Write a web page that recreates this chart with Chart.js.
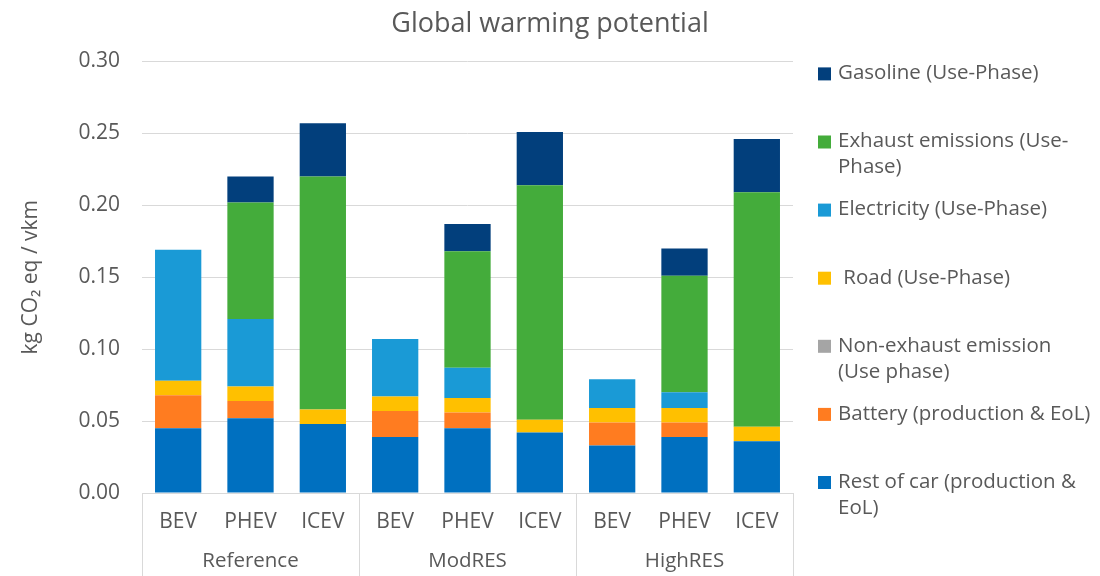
<!DOCTYPE html>
<html>
<head>
<meta charset="utf-8">
<script src="https://cdn.jsdelivr.net/npm/chart.js@4.4.0/dist/chart.umd.min.js"></script>
<style>
  html, body { margin: 0; padding: 0; background: #ffffff; }
  #wrap { width: 1100px; height: 576px; }
</style>
</head>
<body>
<div id="wrap"><canvas id="chart" width="1100" height="576"></canvas></div>
<script>
// Vehicle types (inner axis) and electricity-mix scenarios (outer axis)
const vehicles = ['BEV', 'PHEV', 'ICEV', 'BEV', 'PHEV', 'ICEV', 'BEV', 'PHEV', 'ICEV'];
const scenarios = ['Reference', 'ModRES', 'HighRES'];
const yTicks = [0, 0.05, 0.10, 0.15, 0.20, 0.25, 0.30];

// kg CO2 eq per vehicle-km, one value per bar
const restOfCar   = [0.045, 0.052, 0.048, 0.039, 0.045, 0.042, 0.033, 0.039, 0.036];
const battery     = [0.023, 0.012, 0.000, 0.018, 0.011, 0.000, 0.016, 0.010, 0.000];
const nonExhaust  = [0.000, 0.000, 0.000, 0.000, 0.000, 0.000, 0.000, 0.000, 0.000];
const road        = [0.010, 0.010, 0.010, 0.010, 0.010, 0.009, 0.010, 0.010, 0.010];
const electricity = [0.091, 0.047, 0.000, 0.040, 0.021, 0.000, 0.020, 0.011, 0.000];
const exhaust     = [0.000, 0.081, 0.162, 0.000, 0.081, 0.163, 0.000, 0.081, 0.163];
const gasoline    = [0.000, 0.018, 0.037, 0.000, 0.019, 0.037, 0.000, 0.019, 0.037];

// Legend text, broken into lines the way it is printed
const seriesLines = [
  ['Rest of car (production &', 'EoL)'],
  ['Battery (production & EoL)'],
  ['Non-exhaust emission', '(Use phase)'],
  [' Road (Use-Phase)'],
  ['Electricity (Use-Phase)'],
  ['Exhaust emissions (Use-', 'Phase)'],
  ['Gasoline (Use-Phase)']
];
const seriesValues = [restOfCar, battery, nonExhaust, road, electricity, exhaust, gasoline];
const seriesColors = ['#0070C0', '#FF7C20', '#A5A5A5', '#FFC000', '#1A9AD6', '#44AC3B', '#023F7C'];

const FONT = '"Open Sans", "Noto Sans", sans-serif';
const TEXT = '#595959';
const GRID = '#D9D9D9';

// Separators between scenario groups, running under the category axis
const groupSeparators = {
  id: 'groupSeparators',
  afterDraw(chart) {
    const ctx = chart.ctx;
    const xs = chart.scales.x;
    const area = chart.chartArea;
    const per = vehicles.length / scenarios.length;
    ctx.save();
    ctx.strokeStyle = GRID;
    ctx.lineWidth = 1;
    for (let g = 0; g <= scenarios.length; g++) {
      const idx = g * per - 0.5;
      const px = Math.round(xs.getPixelForValue(idx)) + 0.5;
      ctx.beginPath();
      ctx.moveTo(px, area.bottom);
      ctx.lineTo(px, chart.height);
      ctx.stroke();
    }
    ctx.restore();
  }
};

// Legend on the right: top series first, evenly spaced over the plot height
const sideLegend = {
  id: 'sideLegend',
  afterDraw(chart) {
    const ctx = chart.ctx;
    const area = chart.chartArea;
    const sets = chart.data.datasets.slice().reverse();
    const x0 = area.right + 25;
    const yFirst = area.top + 12;
    const yLast = area.bottom - 11;
    const step = (yLast - yFirst) / (sets.length - 1);
    ctx.save();
    ctx.font = '20.5px ' + FONT;
    ctx.textBaseline = 'middle';
    ctx.textAlign = 'left';
    sets.forEach((ds, i) => {
      const y = yFirst + i * step;
      ctx.fillStyle = ds.backgroundColor;
      ctx.fillRect(x0, y - 6, 13, 13);
      ctx.fillStyle = TEXT;
      ds.lines.forEach((line, j) => {
        ctx.fillText(line, x0 + 20, y + j * 26);
      });
    });
    ctx.restore();
  }
};

const datasets = seriesValues.map((vals, i) => ({
  label: seriesLines[i].join(' ').trim(),
  lines: seriesLines[i],
  data: vals,
  backgroundColor: seriesColors[i],
  borderWidth: 0,
  barPercentage: 0.64,
  categoryPercentage: 1.0
}));

new Chart(document.getElementById('chart'), {
  type: 'bar',
  data: { labels: vehicles, datasets: datasets },
  plugins: [groupSeparators, sideLegend],
  options: {
    responsive: false,
    animation: false,
    devicePixelRatio: 1,
    layout: { padding: 0 },
    plugins: {
      legend: { display: false },
      tooltip: { enabled: false },
      title: {
        display: true,
        text: 'Global warming potential',
        color: TEXT,
        font: { family: FONT, size: 27, weight: 'normal' },
        padding: { top: 8, bottom: 21 }
      }
    },
    scales: {
      x: {
        stacked: true,
        grid: { display: false, drawTicks: false },
        border: { display: true, color: GRID },
        ticks: { color: TEXT, font: { family: FONT, size: 21 }, padding: 16, maxRotation: 0 },
        afterFit(scale) { scale.height = 55; }
      },
      x2: {
        type: 'category',
        labels: scenarios,
        position: 'bottom',
        weight: 1,
        offset: true,
        grid: { display: false, drawTicks: false },
        border: { display: false },
        ticks: { color: TEXT, font: { family: FONT, size: 20.5 }, padding: 1, maxRotation: 0 },
        afterFit(scale) { scale.height = 28; }
      },
      y: {
        stacked: true,
        min: 0,
        max: 0.30,
        afterBuildTicks(scale) { scale.ticks = yTicks.map(v => ({ value: v })); },
        grid: { color: GRID, drawTicks: false },
        border: { display: false },
        ticks: {
          color: TEXT,
          font: { family: FONT, size: 21 },
          padding: 22,
          callback: v => Number(v).toFixed(2)
        },
        title: {
          display: true,
          text: 'kg CO₂ eq / vkm',
          color: TEXT,
          font: { family: FONT, size: 21 },
          padding: { top: 18, bottom: 0 }
        },
        afterFit(scale) { scale.width = 142; }
      },
      // empty right-hand strip that holds the legend
      legendSpace: {
        type: 'linear',
        position: 'right',
        display: true,
        grid: { display: false, drawTicks: false },
        border: { display: false },
        ticks: { display: false },
        afterFit(scale) { scale.width = 307; }
      }
    }
  }
});
</script>
</body>
</html>
